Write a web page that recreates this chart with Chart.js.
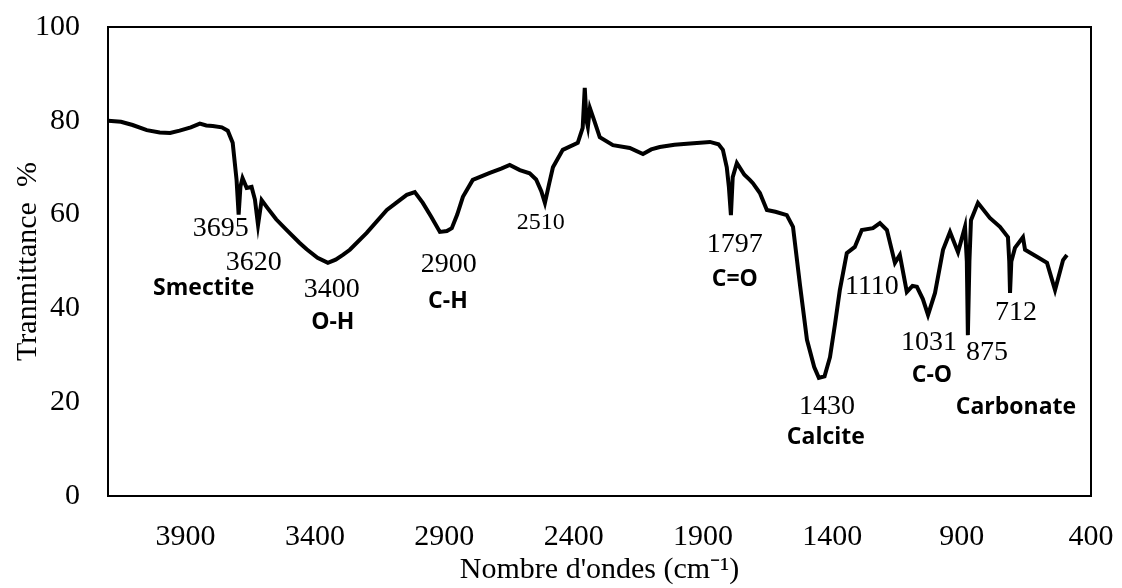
<!DOCTYPE html>
<html>
<head>
<meta charset="utf-8">
<script src="https://cdn.jsdelivr.net/npm/chart.js@4/dist/chart.umd.min.js"></script>
<style>
  html, body { margin: 0; padding: 0; background: #fff; }
  #wrap { width: 1122px; height: 588px; }
</style>
</head>
<body>
<div id="wrap"><canvas id="ftir"></canvas></div>
<script>
// Spectrum (wavenumber in cm-1, transmittance in %)
const wavenumbers = [
  4200, 4150, 4105, 4050, 4000, 3960, 3923, 3880, 3845, 3820, 3795, 3760, 3737, 3718,
  3703, 3695, 3688, 3680, 3664, 3645, 3632, 3620, 3606, 3586, 3550, 3509, 3460, 3432,
  3390, 3350, 3320, 3292, 3265, 3200, 3122, 3072, 3045, 3014, 2983, 2950, 2917, 2890,
  2871, 2850, 2828, 2790, 2724, 2680, 2647, 2608, 2570, 2545, 2525, 2511, 2495, 2480,
  2442, 2384, 2365, 2357, 2350, 2345, 2337, 2320, 2299, 2248, 2183, 2132, 2100, 2067,
  2010, 1962, 1873, 1840, 1823, 1808, 1800, 1792, 1785, 1769, 1740, 1719, 1707, 1680,
  1653, 1620, 1576, 1552, 1525, 1498, 1470, 1452, 1430, 1409, 1390, 1371, 1344, 1313,
  1286, 1243, 1216, 1189, 1158, 1139, 1112, 1090, 1073, 1050, 1030, 1003, 972, 945,
  914, 887, 880, 876, 870, 864, 837, 791, 752, 721, 716, 713, 708, 694,
  663, 655, 609, 570, 539, 508, 493
];
const transmittance = [
  80.0, 79.8, 79.1, 78.0, 77.5, 77.4, 77.9, 78.6, 79.4, 79.0, 78.9, 78.6, 77.9, 75.3,
  67.4, 60.0, 66.0, 67.8, 65.7, 65.9, 63.2, 57.8, 63.1, 61.6, 59.0, 56.7, 54.0, 52.6,
  50.8, 49.7, 50.4, 51.4, 52.5, 56.1, 61.0, 63.1, 64.2, 64.8, 62.5, 59.5, 56.3, 56.5,
  57.1, 60.0, 63.8, 67.4, 68.9, 69.8, 70.6, 69.5, 68.8, 67.5, 65.0, 62.5, 66.5, 70.1,
  73.8, 75.3, 78.5, 87.0, 80.0, 78.7, 82.7, 80.0, 76.5, 74.8, 74.2, 72.9, 73.9, 74.4,
  74.9, 75.1, 75.5, 75.0, 73.8, 70.1, 66.0, 59.9, 68.0, 71.0, 68.5, 67.4, 66.7, 64.6,
  61.0, 60.6, 59.9, 57.4, 45.0, 33.3, 27.5, 25.2, 25.5, 29.6, 36.5, 43.9, 51.8, 53.1,
  56.7, 57.1, 58.2, 56.7, 49.7, 51.4, 43.5, 44.8, 44.6, 42.0, 38.6, 43.3, 52.5, 56.3,
  52.0, 57.4, 50.0, 34.3, 50.0, 58.8, 62.5, 59.3, 57.4, 55.2, 50.0, 43.3, 50.0, 52.9,
  55.2, 52.5, 51.0, 49.7, 43.9, 50.3, 51.4
];

// Axis ticks
const xTicks = [3900, 3400, 2900, 2400, 1900, 1400, 900, 400];
const yTicks = [0, 20, 40, 60, 80, 100];

// Peak annotations: text, wavenumber position, transmittance position
const labelText = ['3695', '3620', 'Smectite', '3400', 'O-H', '2900', 'C-H', '2510', '1797', 'C=O',
  '1110', '1430', 'Calcite', '1031', '875', '712', 'C-O', 'Carbonate'];
const labelX = [3764, 3637, 3830, 3335, 3331, 2883, 2886, 2527, 1777, 1777,
  1247, 1421, 1425, 1026, 802, 690, 1015, 690];
const labelY = [57.1, 49.7, 44.3, 43.9, 36.9, 49.3, 41.4, 58.2, 53.5, 46.1,
  44.6, 19.0, 12.4, 32.8, 30.5, 39.0, 25.8, 18.8];
const labelBold = [false, false, true, false, true, false, true, false, false, true,
  false, false, true, false, false, false, true, true];
const labelSize = [28, 28, 23, 28, 23, 28, 23, 24, 28, 23, 28, 28, 23, 28, 28, 28, 23, 23];

const serif = '"Liberation Serif", "Times New Roman", serif';

// Frame around the plot area
const framePlugin = {
  id: 'frame',
  afterDraw(chart) {
    const { ctx, chartArea: a } = chart;
    ctx.save();
    ctx.strokeStyle = '#000';
    ctx.lineWidth = 2;
    ctx.strokeRect(a.left, a.top, a.right - a.left, a.bottom - a.top);
    ctx.restore();
  }
};

// Peak labels
const peakLabels = {
  id: 'peakLabels',
  afterDatasetsDraw(chart) {
    const { ctx, scales } = chart;
    ctx.save();
    ctx.fillStyle = '#000';
    ctx.textAlign = 'center';
    ctx.textBaseline = 'middle';
    labelText.forEach((t, i) => {
      ctx.font = labelBold[i]
        ? 'bold ' + labelSize[i] + 'px "Open Sans", sans-serif'
        : labelSize[i] + 'px ' + serif;
      ctx.fillText(t, scales.x.getPixelForValue(labelX[i]), scales.y.getPixelForValue(labelY[i]));
    });
    ctx.restore();
  }
};

const points = wavenumbers.map((w, i) => ({ x: w, y: transmittance[i] }));

new Chart(document.getElementById('ftir'), {
  type: 'line',
  data: {
    datasets: [{
      data: points,
      borderColor: '#000',
      borderWidth: 4,
      pointRadius: 0,
      tension: 0,
      fill: false
    }]
  },
  options: {
    responsive: true,
    maintainAspectRatio: false,
    animation: false,
    layout: { padding: { left: 0, right: 31, top: 27, bottom: 0 } },
    plugins: {
      legend: { display: false },
      tooltip: { enabled: false }
    },
    scales: {
      x: {
        type: 'linear',
        min: 400,
        max: 4200,
        reverse: true,
        grid: { display: false, drawTicks: false },
        border: { display: false },
        afterBuildTicks: scale => { scale.ticks = xTicks.map(v => ({ value: v })); },
        afterFit: scale => {
          scale.height = 92;
          scale.paddingLeft = 0;
          scale.paddingRight = 0;
        },
        ticks: {
          color: '#000',
          font: { family: serif, size: 30 },
          padding: 23,
          maxRotation: 0,
          autoSkip: false,
          callback: v => String(v)
        },
        title: {
          display: true,
          text: "Nombre d'ondes (cm⁻¹)",
          color: '#000',
          font: { family: serif, size: 30 },
          padding: { top: 0, bottom: 0 }
        }
      },
      y: {
        min: 0,
        max: 100,
        grid: { display: false, drawTicks: false },
        border: { display: false },
        afterBuildTicks: scale => { scale.ticks = yTicks.map(v => ({ value: v })); },
        afterFit: scale => {
          scale.width = 108;
          scale.paddingTop = 0;
          scale.paddingBottom = 0;
        },
        ticks: {
          color: '#000',
          font: { family: serif, size: 30 },
          padding: 28,
          callback: v => String(v)
        },
        title: {
          display: true,
          text: 'Tranmittance  %',
          color: '#000',
          font: { family: serif, size: 30 },
          padding: { top: 10, bottom: 0 }
        }
      }
    }
  },
  plugins: [framePlugin, peakLabels]
});
</script>
</body>
</html>
